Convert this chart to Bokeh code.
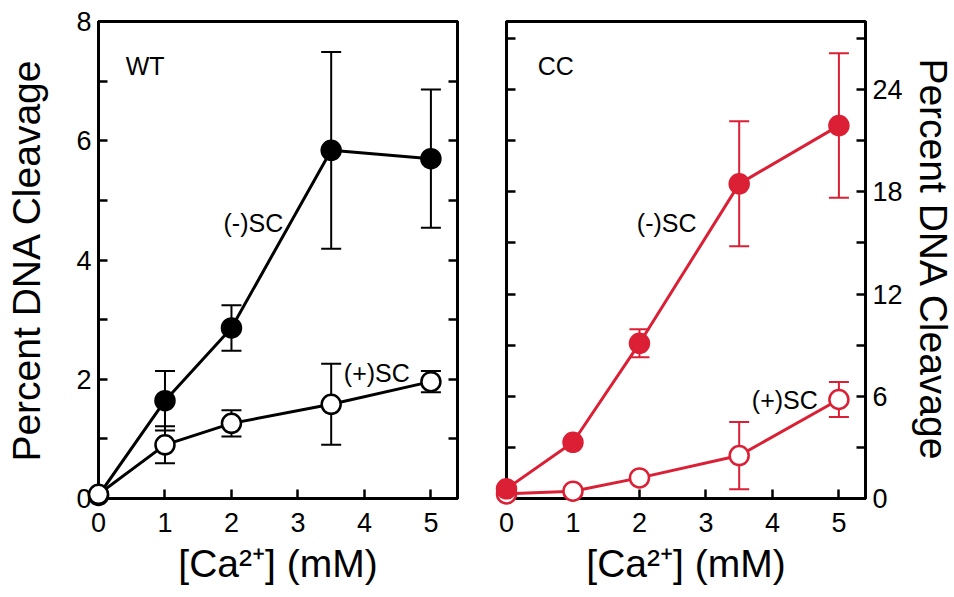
from bokeh.plotting import figure
from bokeh.layouts import row
from bokeh.models import FixedTicker, LinearAxis, Whisker, ColumnDataSource, Label, Range1d
from bokeh.embed import file_html
from bokeh.resources import INLINE

# ---------------- data ----------------
ca_mM = [0, 1, 2, 3.5, 5]

wt_minus_sc = [0.05, 1.64, 2.86, 5.84, 5.70]
wt_minus_err = [0.0, 0.50, 0.38, 1.65, 1.16]
wt_plus_sc = [0.07, 0.90, 1.26, 1.58, 1.96]
wt_plus_err = [0.0, 0.31, 0.22, 0.68, 0.18]

cc_minus_sc = [0.57, 3.30, 9.11, 18.47, 21.89]
cc_minus_err = [0.0, 0.0, 0.82, 3.67, 4.24]
cc_plus_sc = [0.27, 0.43, 1.21, 2.52, 5.81]
cc_plus_err = [0.0, 0.0, 0.0, 1.97, 1.03]

x_ticks = [0, 1, 2, 3, 4, 5]
wt_y_ticks = [0, 2, 4, 6, 8]
wt_y_minor = [1, 3, 5, 7]
cc_y_ticks = [0, 6, 12, 18, 24]
cc_y_minor = [3, 9, 15, 21, 27]

FONT = "Liberation Sans"
RED = "#DB1F35"
TICK_FS = "27px"
TITLE_FS = "39px"
NOTE_FS = "25px"


def style_axis(ax):
    ax.axis_line_width = 3
    ax.axis_line_color = "black"
    ax.major_tick_in = 9
    ax.major_tick_out = 0
    ax.minor_tick_in = 9
    ax.minor_tick_out = 0
    ax.major_tick_line_width = 2.5
    ax.minor_tick_line_width = 2.5
    ax.major_label_text_font = FONT
    ax.major_label_text_font_size = TICK_FS
    ax.major_label_text_color = "black"
    ax.major_label_standoff = 7
    ax.axis_label_text_font = FONT
    ax.axis_label_text_font_size = TITLE_FS
    ax.axis_label_text_font_style = "normal"
    ax.axis_label_text_color = "black"


def base_fig(yr, **kw):
    p = figure(frame_width=359, frame_height=477,
               x_range=Range1d(0, 5.4), y_range=Range1d(*yr),
               output_backend="svg", toolbar_location=None,
               x_axis_location=None, y_axis_location=None,
               min_border_top=21, min_border_bottom=99, **kw)
    p.xgrid.visible = False
    p.ygrid.visible = False
    p.outline_line_color = "black"
    p.outline_line_width = 3
    p.outline_line_alpha = 1
    p.background_fill_color = "white"
    p.border_fill_color = "white"
    return p


def add_series(p, x, y, err, color):
    src = ColumnDataSource(dict(x=x, y=y))
    p.line("x", "y", source=src, line_color=color, line_width=3)
    ex = [a for a, e in zip(x, err) if e > 0]
    ey = [b for b, e in zip(y, err) if e > 0]
    ee = [e for e in err if e > 0]
    if ex:
        es = ColumnDataSource(dict(x=ex, lo=[b - e for b, e in zip(ey, ee)],
                                   hi=[b + e for b, e in zip(ey, ee)]))
        w = Whisker(base="x", lower="lo", upper="hi", source=es,
                    line_color=color, line_width=2)
        for h in (w.upper_head, w.lower_head):
            h.size = 20
            h.line_color = color
            h.line_width = 2
        p.add_layout(w)
    return src


def add_markers(p, src, color, filled):
    r = p.scatter("x", "y", source=src, size=19, marker="circle",
                  fill_color=color if filled else "white",
                  line_color=color, line_width=2.5)
    r.level = "overlay"


def x_axis(p):
    ax = LinearAxis(ticker=FixedTicker(ticks=x_ticks, minor_ticks=[]),
                    axis_label="[Ca²⁺] (mM)")
    style_axis(ax)
    ax.major_label_standoff = 14
    ax.axis_label_standoff = 7
    p.add_layout(ax, "below")


# ---------------- WT panel ----------------
p1 = base_fig((0, 8), min_border_left=98, min_border_right=31)

s_m = add_series(p1, ca_mM, wt_minus_sc, wt_minus_err, "black")
s_p = add_series(p1, ca_mM, wt_plus_sc, wt_plus_err, "black")
add_markers(p1, s_m, "black", True)
add_markers(p1, s_p, "black", False)

yl = LinearAxis(ticker=FixedTicker(ticks=wt_y_ticks, minor_ticks=wt_y_minor),
                axis_label="Percent DNA Cleavage")
style_axis(yl)
yl.axis_label_standoff = 25
p1.add_layout(yl, "left")

yr1 = LinearAxis(ticker=FixedTicker(ticks=wt_y_ticks, minor_ticks=wt_y_minor),
                 major_label_overrides={t: "" for t in wt_y_ticks})
style_axis(yr1)
yr1.major_label_standoff = 0
p1.add_layout(yr1, "right")

x_axis(p1)

for txt, x, y in [("WT", 0.41, 7.25), ("(-)SC", 1.88, 4.62), ("(+)SC", 3.69, 2.10)]:
    p1.add_layout(Label(x=x, y=y, text=txt, text_font=FONT, text_font_size=NOTE_FS,
                        text_color="black", text_baseline="alphabetic", text_align="left"))

# ---------------- CC panel ----------------
p2 = base_fig((0, 28), min_border_left=18, min_border_right=88)

c_p = add_series(p2, ca_mM, cc_plus_sc, cc_plus_err, RED)
c_m = add_series(p2, ca_mM, cc_minus_sc, cc_minus_err, RED)
add_markers(p2, c_p, RED, False)
add_markers(p2, c_m, RED, True)

yl2 = LinearAxis(ticker=FixedTicker(ticks=cc_y_ticks, minor_ticks=cc_y_minor),
                 major_label_overrides={t: "" for t in cc_y_ticks})
style_axis(yl2)
yl2.major_label_standoff = 0
p2.add_layout(yl2, "left")

yr2 = LinearAxis(ticker=FixedTicker(ticks=cc_y_ticks, minor_ticks=cc_y_minor),
                 axis_label="Percent DNA Cleavage")
style_axis(yr2)
yr2.axis_label_standoff = 6
p2.add_layout(yr2, "right")

x_axis(p2)

for txt, x, y in [("CC", 0.47, 25.37), ("(-)SC", 1.96, 16.2), ("(+)SC", 3.69, 5.79)]:
    p2.add_layout(Label(x=x, y=y, text=txt, text_font=FONT, text_font_size=NOTE_FS,
                        text_color="black", text_baseline="alphabetic", text_align="left"))

layout = row(p1, p2)
open("out.html", "w").write(file_html(layout, INLINE))
